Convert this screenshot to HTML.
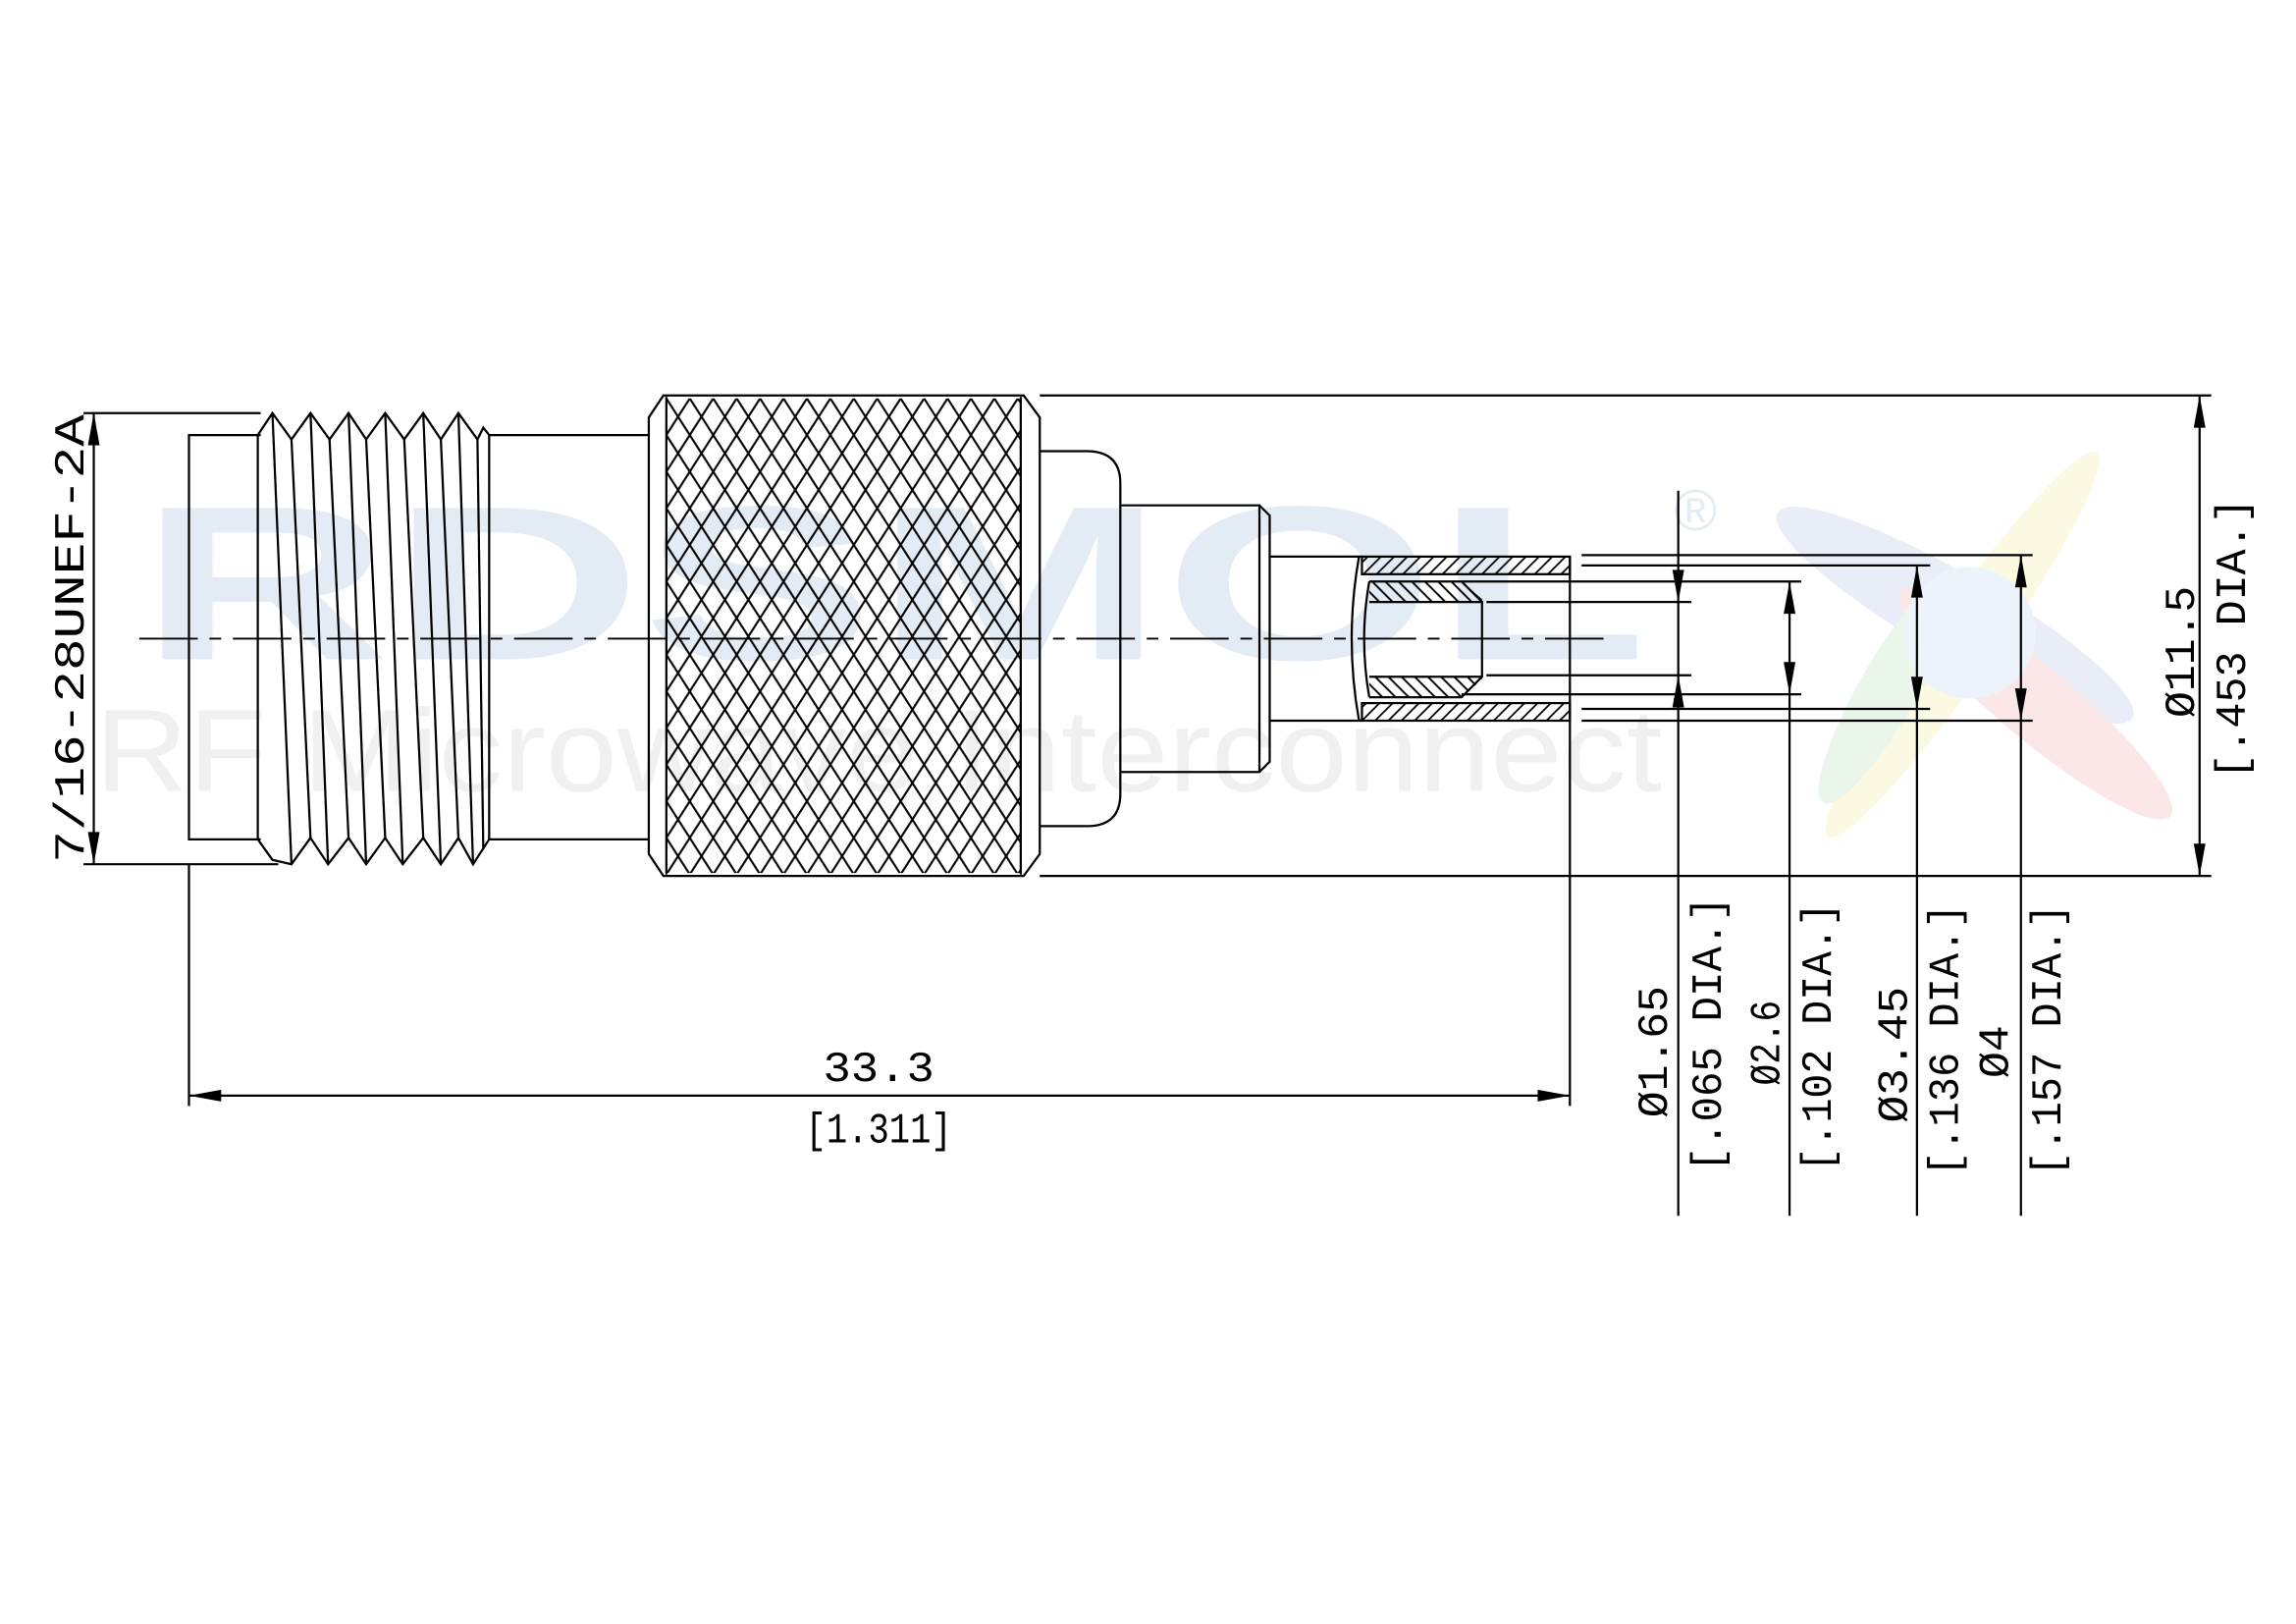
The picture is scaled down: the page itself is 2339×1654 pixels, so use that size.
<!DOCTYPE html>
<html><head><meta charset="utf-8"><style>
html,body{margin:0;padding:0;background:#fff;}
svg{display:block;}
text{font-family:"Liberation Mono",monospace;}
</style></head><body>
<svg width="2339" height="1654" viewBox="0 0 1567.8 1108.7" xmlns="http://www.w3.org/2000/svg">
<defs>
<pattern id="knurl" patternUnits="userSpaceOnUse" x="455" y="272" width="16" height="25">
<path d="M-8,-12.5 L24,37.5 M24,-12.5 L-8,37.5 M-16,0 L0,25 M16,0 L32,25 M0,-25 L16,0 M0,25 L16,50" stroke="#000" stroke-width="1.4" fill="none"/>
</pattern>
<pattern id="hatch" patternUnits="userSpaceOnUse" width="9" height="9">
<path d="M-3,12 L12,-3 M-3,3 L3,-3 M6,12 L12,6" stroke="#000" stroke-width="1.2"/>
</pattern>
<pattern id="hatch2" patternUnits="userSpaceOnUse" width="9" height="9">
<path d="M-3,-3 L12,12 M6,-3 L12,3 M-3,6 L3,12" stroke="#000" stroke-width="1.3"/>
</pattern>
</defs>

<!-- watermark -->
<text x="95" y="450" font-weight="bold" font-size="150" fill="#e3ebf5" textLength="1030" lengthAdjust="spacingAndGlyphs" style="font-family:'Liberation Sans',sans-serif">RDSMOL</text>
<text x="1143" y="362" font-size="40" fill="#e3ebf5" style="font-family:'Liberation Sans',sans-serif">®</text>
<text x="65" y="540" font-size="80" fill="#f0f0f0" textLength="1070" lengthAdjust="spacingAndGlyphs" style="font-family:'Liberation Sans',sans-serif">RF Microwave Interconnect</text>
<g opacity="0.2">
<ellipse cx="1335" cy="420" rx="140" ry="28" transform="rotate(30 1335 420)" fill="#8fa8d8"/>
<ellipse cx="1340" cy="440" rx="160" ry="22" transform="rotate(-55 1340 440)" fill="#f4e27a"/>
<ellipse cx="1390" cy="480" rx="120" ry="25" transform="rotate(40 1390 480)" fill="#f08a8a"/>
<ellipse cx="1290" cy="470" rx="90" ry="20" transform="rotate(-60 1290 470)" fill="#9fd59f"/>
<circle cx="1345" cy="432" r="45" fill="#a8c8ec"/>
</g>

<g stroke="#000" stroke-width="1.5" fill="none">
<line x1="95" y1="436" x2="1100" y2="436" stroke-dasharray="40,8,8,8" stroke-width="1.2"/>

<line x1="57" y1="282" x2="178" y2="282"/>
<line x1="57" y1="590" x2="190" y2="590"/>
<line x1="64" y1="282" x2="64" y2="590"/>

<polyline points="178,297 129,297 129,573 178,573"/>
<line x1="129" y1="590" x2="129" y2="755"/>

<polyline points="176,297 186,282 199,300 212,282 225,300 238,282 250,300 263,282 276,300 289,282 301,300 313,282 326,300 330,292 334,297"/>
<polyline points="176,573 186,587 199,590 212,572 224,590 238,572 250,590 263,572 275,590 289,572 301,590 313,572 323,590 334,573"/>
<line x1="176" y1="297" x2="176" y2="573"/>
<line x1="334" y1="297" x2="334" y2="573"/>
<line x1="186" y1="282" x2="199" y2="590"/><line x1="199" y1="300" x2="212" y2="572"/>
<line x1="212" y1="282" x2="224" y2="590"/><line x1="225" y1="300" x2="238" y2="572"/>
<line x1="238" y1="282" x2="250" y2="590"/><line x1="250" y1="300" x2="263" y2="572"/>
<line x1="263" y1="282" x2="275" y2="590"/><line x1="276" y1="300" x2="289" y2="572"/>
<line x1="289" y1="282" x2="301" y2="590"/><line x1="301" y1="300" x2="313" y2="572"/>
<line x1="313" y1="282" x2="323" y2="590"/><line x1="326" y1="300" x2="330" y2="580"/>

<line x1="334" y1="297" x2="443" y2="297"/>
<line x1="334" y1="573" x2="443" y2="573"/>

<rect x="455" y="272" width="242" height="324" fill="url(#knurl)" stroke="none"/>
<polygon points="443,285 453,270 699,270 710,285 710,583 699,598 453,598 443,583"/>
<line x1="455" y1="271" x2="455" y2="597"/>
<line x1="697" y1="271" x2="697" y2="597"/>

<line x1="710" y1="270" x2="1510" y2="270"/>
<line x1="710" y1="598" x2="1510" y2="598"/>
<line x1="1502" y1="270" x2="1502" y2="598"/>

<path d="M710,308 L742,308 Q765,308 765,330 L765,542 Q765,564 742,564 L710,564"/>
<path d="M765,345 L860,345 L867,352 L867,520 L860,527 L765,527"/>
<line x1="860" y1="345" x2="860" y2="527"/>
<line x1="867" y1="380" x2="930" y2="380"/>
<line x1="867" y1="492" x2="930" y2="492"/>
</g>

<rect x="930" y="380" width="142" height="12" fill="url(#hatch)"/>
<rect x="930" y="480" width="142" height="12" fill="url(#hatch)"/>
<polygon points="935,397 998,397 1012,409 1012,411 935,411" fill="url(#hatch2)"/>
<polygon points="935,462 1012,462 1012,464 998,476 935,476" fill="url(#hatch2)"/>
<g stroke="#000" stroke-width="1.5" fill="none">
<rect x="930" y="380" width="142" height="12"/>
<rect x="930" y="480" width="142" height="12"/>
<path d="M928,380 Q918,436 928,492"/>
<path d="M935,397 Q928,436 935,476"/>
<polyline points="935,397 998,397 1012,411 1012,462 998,476 935,476"/>
<line x1="935" y1="411" x2="1012" y2="411"/>
<line x1="935" y1="462" x2="1012" y2="462"/>
<line x1="1072" y1="380" x2="1072" y2="755"/>

<line x1="1080" y1="379" x2="1388" y2="379"/>
<line x1="1080" y1="492" x2="1388" y2="492"/>
<line x1="1080" y1="386" x2="1318" y2="386"/>
<line x1="1080" y1="484" x2="1318" y2="484"/>
<line x1="998" y1="397" x2="1230" y2="397"/>
<line x1="998" y1="474" x2="1230" y2="474"/>
<line x1="1015" y1="411" x2="1155" y2="411"/>
<line x1="1015" y1="461" x2="1155" y2="461"/>

<line x1="1146" y1="335" x2="1146" y2="830"/>
<line x1="1222" y1="397" x2="1222" y2="830"/>
<line x1="1309" y1="386" x2="1309" y2="830"/>
<line x1="1380" y1="379" x2="1380" y2="830"/>

<line x1="129" y1="748" x2="1072" y2="748"/>
</g>

<g fill="#000">
<polygon points="64,282 60,304 68,304"/>
<polygon points="64,590 60,568 68,568"/>
<polygon points="1502,270 1498,292 1506,292"/>
<polygon points="1502,598 1498,576 1506,576"/>
<polygon points="129,748 151,744 151,752"/>
<polygon points="1072,748 1050,744 1050,752"/>
<polygon points="1146,411 1142,389 1150,389"/>
<polygon points="1146,461 1142,483 1150,483"/>
<polygon points="1222,397 1218,419 1226,419"/>
<polygon points="1222,474 1218,452 1226,452"/>
<polygon points="1309,386 1305,408 1313,408"/>
<polygon points="1309,484 1305,462 1313,462"/>
<polygon points="1380,379 1376,401 1384,401"/>
<polygon points="1380,492 1376,470 1384,470"/>
</g>

<g fill="#000" font-size="29">
<text transform="translate(57,436) rotate(-90)" text-anchor="middle" textLength="306" lengthAdjust="spacingAndGlyphs">7/16-28UNEF-2A</text>
<text x="600" y="738" text-anchor="middle" textLength="76" lengthAdjust="spacingAndGlyphs">33.3</text>
<text x="600" y="780" text-anchor="middle" textLength="100" lengthAdjust="spacingAndGlyphs">[1.311]</text>
<text transform="translate(1138,718) rotate(-90)" text-anchor="middle" textLength="90" lengthAdjust="spacingAndGlyphs">Ø1.65</text>
<text transform="translate(1175,706) rotate(-90)" text-anchor="middle" textLength="188" lengthAdjust="spacingAndGlyphs">[.065 DIA.]</text>
<text transform="translate(1215,712) rotate(-90)" text-anchor="middle" textLength="58" lengthAdjust="spacingAndGlyphs">Ø2.6</text>
<text transform="translate(1250,708) rotate(-90)" text-anchor="middle" textLength="184" lengthAdjust="spacingAndGlyphs">[.102 DIA.]</text>
<text transform="translate(1302,720) rotate(-90)" text-anchor="middle" textLength="93" lengthAdjust="spacingAndGlyphs">Ø3.45</text>
<text transform="translate(1337,710) rotate(-90)" text-anchor="middle" textLength="186" lengthAdjust="spacingAndGlyphs">[.136 DIA.]</text>
<text transform="translate(1371,718) rotate(-90)" text-anchor="middle" textLength="36" lengthAdjust="spacingAndGlyphs">Ø4</text>
<text transform="translate(1407,710) rotate(-90)" text-anchor="middle" textLength="186" lengthAdjust="spacingAndGlyphs">[.157 DIA.]</text>
<text transform="translate(1498,445) rotate(-90)" text-anchor="middle" textLength="90" lengthAdjust="spacingAndGlyphs">Ø11.5</text>
<text transform="translate(1533,436) rotate(-90)" text-anchor="middle" textLength="192" lengthAdjust="spacingAndGlyphs">[.453 DIA.]</text>
</g>
</svg>
</body></html>
